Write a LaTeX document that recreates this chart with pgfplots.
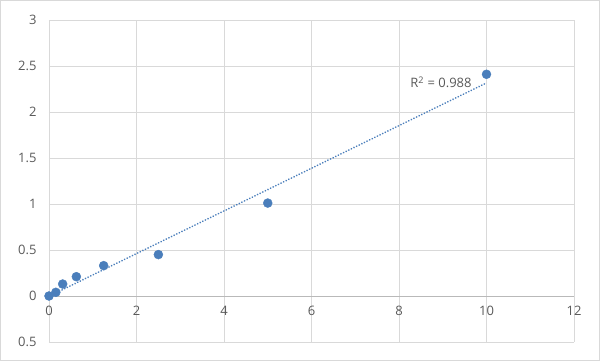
\documentclass[border=0pt]{standalone}
\usepackage{pgfplots}
\pgfplotsset{compat=1.18}
\usepackage{fontspec}
\setmainfont{Open Sans}
\definecolor{ptblue}{HTML}{4A7EBB}
\definecolor{gridgray}{HTML}{D9D9D9}
\definecolor{txtgray}{HTML}{595959}
\begin{document}
\begin{tikzpicture}[x=1pt,y=1pt]
\useasboundingbox (-49,-19) rectangle (551,342);
\draw[gridgray, line width=1.2pt] (-48.4,-18.4) rectangle (550.4,341.4);
\begin{axis}[
  at={(0,0)}, anchor=south west,
  scale only axis, width=525pt, height=322pt,
  xmin=0, xmax=12, ymin=-0.5, ymax=3,
  xtick={0,2,4,6,8,10,12},
  ytick={-0.5,0,0.5,1,1.5,2,2.5,3},
  yticklabels={0.5,0,0.5,1,1.5,2,2.5,3},
  axis x line=middle, axis y line=left,
  hide obscured x ticks=false,
  x axis line style={-, draw=gray!55, line width=0.8pt},
  y axis line style={-, draw=none},
  grid=major,
  major grid style={gridgray, line width=0.9pt},
  major tick length=0pt,
  tick label style={font=\fontsize{13}{15}\selectfont, text=txtgray},
  xticklabel style={yshift=-7pt},
  yticklabel style={xshift=-9pt},
  /pgf/number format/assume math mode=true,
  clip=false,
]
\addplot[ptblue, line width=1.8pt, dash pattern=on 0.1pt off 2.8pt, line cap=round]
  coordinates {(0,-0.003) (10,2.316)};
\addplot[only marks, mark=*, mark size=4.5pt, mark options={fill=ptblue, draw=ptblue}]
  coordinates {(0,0) (0.15625,0.04) (0.3125,0.13) (0.625,0.21) (1.25,0.33) (2.5,0.45) (5,1.01) (10,2.41)};
\node[text=txtgray, font=\fontsize{13}{15}\selectfont] at (axis cs:8.96,2.32) {R\textsuperscript{2} = 0.988};
\end{axis}
\end{tikzpicture}
\end{document}
